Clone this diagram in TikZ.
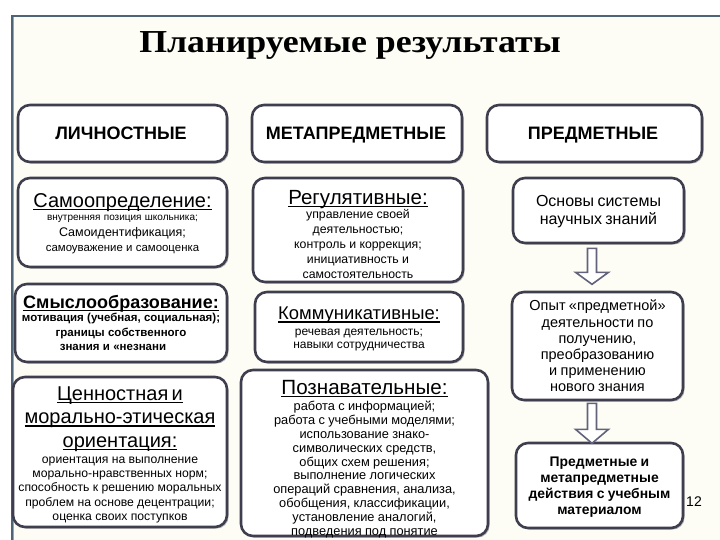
\documentclass[tikz,border=0pt]{standalone}
\usepackage{fontspec}
\setmainfont{Liberation Sans}
\newfontfamily\titlefont{Liberation Serif}
\usetikzlibrary{shadows,calc}
\definecolor{boxc}{HTML}{3E3E4E}
\definecolor{framec}{HTML}{4F6577}
\definecolor{leftc}{HTML}{8AAAC0}
\definecolor{bgc}{HTML}{FDFDF6}
\definecolor{arrowc}{HTML}{62627A}
\newcommand\fs[2]{\fontsize{#1}{#2}\selectfont}
\newcommand\lyn[3]{{\fs{#1}{#2}\lineskiplimit=-100pt\leavevmode#3\par}}
\newcommand\ulb[1]{\leavevmode\setbox0\hbox{#1}\rlap{\rule[-2.9pt]{\wd0}{1.2pt}}\box0}
\tikzset{
  rbox/.style={draw=boxc, line width=2.6pt, rounded corners=12pt, fill=white,
    inner sep=0pt,
    drop shadow={shadow xshift=1.6pt, shadow yshift=-1.6pt, fill=black!45, opacity=0.6}},
  txt/.style={text width=300pt, align=center, inner sep=0pt, anchor=base},
  head/.style={font=\bfseries\fs{18}{20}, anchor=base, inner sep=0pt},
  hollow/.style={draw=arrowc, line width=1.6pt, fill=white, line join=miter},
}
\begin{document}
\begin{tikzpicture}[x=1pt,y=-1pt]
\useasboundingbox (0,0) rectangle (720,540);
\fill[white] (0,0) rectangle (720,540);
\fill[bgc] (12,16) rectangle (720,540);
\draw[framec, line width=1.2pt] (12,540) -- (12,16) -- (720,16);
\draw[leftc, line width=0.8pt] (13.5,17) -- (13.5,540);

\node[font=\titlefont\bfseries\fs{32}{36}, anchor=base, inner sep=0pt] (title) at (350,53) {\scalebox{1.12}[1]{Планируемые результаты}};

% header row
\node[rbox, minimum width=209pt, minimum height=57pt] (h1) at (122.5,133.5) {};
\node[rbox, minimum width=210pt, minimum height=57pt] (h2) at (357,133.5) {};
\node[rbox, minimum width=215pt, minimum height=57pt] (h3) at (594.5,133.5) {};
\node[head] (h1t) at (121,139.5) {ЛИЧНОСТНЫЕ};
\node[head] (h2t) at (356,139.5) {МЕТАПРЕДМЕТНЫЕ};
\node[head] (h3t) at (593,139.5) {ПРЕДМЕТНЫЕ};

% boxes
\node[rbox, minimum width=209pt, minimum height=89pt] (b11) at (122.5,222.5) {};
\node[rbox, minimum width=212pt, minimum height=78pt] (b12) at (121,323) {};
\node[rbox, minimum width=214pt, minimum height=150pt] (b13) at (120,452) {};
\node[rbox, minimum width=210pt, minimum height=104pt] (b21) at (358,230) {};
\node[rbox, minimum width=208pt, minimum height=70pt] (b22) at (359,327) {};
\node[rbox, minimum width=247pt, minimum height=166pt] (b23) at (364.5,453) {};
\node[rbox, minimum width=171pt, minimum height=65pt] (b31) at (598.5,210.5) {};
\node[rbox, minimum width=171pt, minimum height=108pt] (b32) at (597.5,346) {};
\node[rbox, minimum width=167pt, minimum height=85pt] (b33) at (599.5,485.5) {};

% texts, column 1 (anchored at the first baseline)
\node[txt] (t11) at (122.5,207.2) {%
  \lyn{20}{20}{\ulb{Самоопределение:}}%
  \lyn{10}{13.4}{внутренняя позиция школьника;}%
  \lyn{12.5}{15.5}{Самоидентификация;}%
  \lyn{11.4}{15.5}{самоуважение и самооценка}};

\node[txt] (t12) at (121,308.5) {\bfseries
  \lyn{18}{18}{\ulb{Смыслообразование:}}%
  \lyn{11.5}{12.7}{мотивация (учебная, социальная);}%
  \lyn{11.5}{15}{границы собственного}%
  \lyn{11.5}{14}{\hspace*{-16pt}знания и «незнани}};

\node[txt] (t13) at (120,400.2) {%
  \lyn{20}{23.5}{\ulb{Ценностная}\ulb{\ и}}%
  \lyn{20}{23.5}{\ulb{морально-этическая}}%
  \lyn{20}{23.5}{\ulb{ориентация:}}%
  \lyn{12.2}{16}{ориентация на выполнение}%
  \lyn{12.2}{14.3}{морально-нравственных норм;}%
  \lyn{12.2}{14.3}{способность к решению моральных}%
  \lyn{12.2}{14.3}{проблем на основе децентрации;}%
  \lyn{12.2}{14.3}{оценка своих поступков}};

% texts, column 2
\node[txt] (t21) at (358,204.3) {%
  \lyn{20.5}{20}{\ulb{Регулятивные:}}%
  \lyn{12.3}{14}{управление своей}%
  \lyn{12.3}{15}{деятельностью;}%
  \lyn{12.3}{15}{контроль и коррекция;}%
  \lyn{12.3}{15}{инициативность и}%
  \lyn{12.3}{15}{самостоятельность}};

\node[txt] (t22) at (359,319.6) {%
  \lyn{18.4}{20}{\ulb{Коммуникативные:}}%
  \lyn{12}{15.5}{речевая деятельность;}%
  \lyn{12}{13}{навыки сотрудничества}};

\node[txt] (t23) at (364.5,394.4) {%
  \lyn{20.6}{20}{\ulb{Познавательные:}}%
  \lyn{12.8}{16}{работа с информацией;}%
  \lyn{12.8}{13.9}{работа с учебными моделями;}%
  \lyn{12.8}{13.9}{использование знако-}%
  \lyn{12.8}{13.9}{символических средств,}%
  \lyn{12.8}{13.9}{общих схем решения;}%
  \lyn{12.8}{13.9}{выполнение логических}%
  \lyn{12.8}{13.9}{операций сравнения,\ анализа,}%
  \lyn{12.8}{13.9}{обобщения, классификации,}%
  \lyn{12.8}{13.9}{установление аналогий,}%
  \lyn{12.8}{13.9}{подведения под понятие}};

% texts, column 3
\node[txt] (t31) at (598.5,206.2) {%
  \lyn{16}{18}{Основы системы}%
  \lyn{16}{18}{научных знаний}};

\node[txt] (t32) at (597.5,310.8) {%
  \lyn{14.5}{16.2}{Опыт «предметной»}%
  \lyn{14.5}{16.2}{деятельности по}%
  \lyn{14.5}{16.2}{получению,}%
  \lyn{14.5}{16.2}{преобразованию}%
  \lyn{14.5}{16.2}{и применению}%
  \lyn{14.5}{16.2}{нового знания}};

\node[txt] (t33) at (599.5,466) {\bfseries
  \lyn{13.9}{16}{Предметные и}%
  \lyn{13.9}{16}{метапредметные}%
  \lyn{13.9}{16}{действия с учебным}%
  \lyn{13.9}{16}{материалом}};

% hollow arrows between column-3 boxes
\coordinate (a1) at ($(b31.south)+(-6.5,4)$);
\coordinate (a2) at ($(b32.south)+(-5.5,2)$);
\draw[hollow] ($(a1)+(-4.5,0)$) -- ($(a1)+(4.5,0)$) -- ($(a1)+(4.5,24)$) -- ($(a1)+(16.5,24)$)
   -- ($(a1)+(0,36)$) -- ($(a1)+(-16.5,24)$) -- ($(a1)+(-4.5,24)$) -- cycle;
\draw[hollow] ($(a2)+(-4.5,0)$) -- ($(a2)+(4.5,0)$) -- ($(a2)+(4.5,26)$) -- ($(a2)+(16.5,26)$)
   -- ($(a2)+(0,40)$) -- ($(a2)+(-16.5,26)$) -- ($(a2)+(-4.5,26)$) -- cycle;

\node[font=\fs{14}{16}] (pg) at (694,502) {12};
\end{tikzpicture}
\end{document}
